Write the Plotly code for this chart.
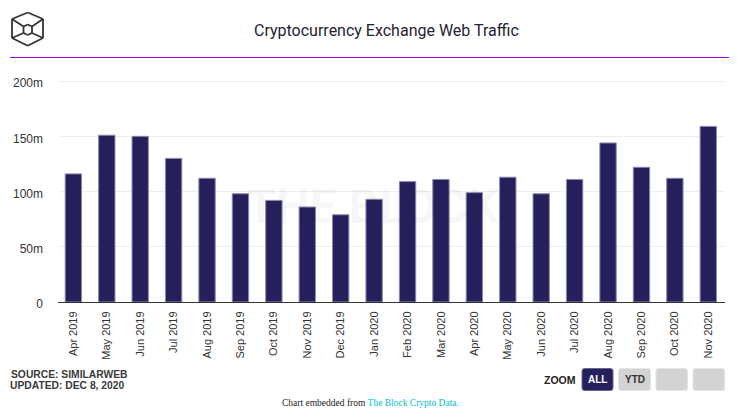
import plotly.graph_objects as go

months = ["Apr 2019","May 2019","Jun 2019","Jul 2019","Aug 2019","Sep 2019","Oct 2019","Nov 2019","Dec 2019","Jan 2020",
          "Feb 2020","Mar 2020","Apr 2020","May 2020","Jun 2020","Jul 2020","Aug 2020","Sep 2020","Oct 2020","Nov 2020"]
traffic = [116e6,151e6,150e6,130e6,112e6,98e6,92e6,86e6,79e6,93e6,109e6,111e6,99e6,113e6,98e6,111e6,144e6,122e6,112e6,159e6]
y_ticks = [0,50e6,100e6,150e6,200e6]
y_labels = ["0","50m","100m","150m","200m"]

W, H = 741, 419
L, R, T, B = 58, 16, 80, 117
DARK = "#25205c"

def px(x): return (x - L) / (W - L - R)
def py(y): return 1 - (y - T) / (H - T - B)

shapes = []
annotations = []

def line(x0, y0, x1, y1, color, width):
    shapes.append(dict(type="line", xref="paper", yref="paper", x0=px(x0), y0=py(y0), x1=px(x1), y1=py(y1),
                       line=dict(color=color, width=width), layer="above"))

def text(x, y, s, size, color, family="Liberation Sans", anchor="center", **kw):
    annotations.append(dict(xref="paper", yref="paper", x=px(x), y=py(y), text=s, showarrow=False,
                            xanchor=anchor, yanchor="middle", font=dict(size=size, color=color, family=family), **kw))

def button(x0, x1, fill, edge, y0=368.5, y1=390.5, r=2.5):
    a, b, c, d = px(x0), px(x1), py(y0), py(y1)
    rx, ry = r / (W - L - R), r / (H - T - B)
    path = (f"M{a+rx},{c} L{b-rx},{c} Q{b},{c} {b},{c-ry} L{b},{d+ry} Q{b},{d} {b-rx},{d} "
            f"L{a+rx},{d} Q{a},{d} {a},{d+ry} L{a},{c-ry} Q{a},{c} {a+rx},{c} Z")
    shapes.append(dict(type="path", xref="paper", yref="paper", path=path,
                       fillcolor=fill, line=dict(color=edge, width=1), layer="above"))

# header rule
line(10, 57.5, 729, 57.5, "#a000e0", 1)

# logo
LOGO = "#333333"
outer = [(27.7,12.5),(43,19),(43,38),(27.7,45.7),(12,38),(12,19),(27.7,12.5)]
for (a,b),(c,d) in zip(outer, outer[1:]):
    line(a,b,c,d,LOGO,1.8)
inner = [(27.7,24.5),(32,26.5),(32,33),(27.7,35),(23.5,33),(23.5,26.5),(27.7,24.5)]
for (a,b),(c,d) in zip(inner, inner[1:]):
    line(a,b,c,d,LOGO,1.8)
for seg in [(12,19,23.5,26.5),(43,19,32,26.5),(12,38,23.5,33),(43,38,32,33)]:
    line(*seg,LOGO,1.8)

# title and footer
text(386.5, 30.5, "Cryptocurrency Exchange Web Traffic", 16, "#1f2430", "Roboto")
text(8.5, 374.5, "<b>SOURCE: SIMILARWEB</b>", 10.3, "#3a3a3a", "Liberation Sans", "left")
text(7.5, 385.5, "<b>UPDATED: DEC 8, 2020</b>", 10.3, "#3a3a3a", "Liberation Sans", "left")
text(370.5, 403, "Chart embedded from <span style='color:#00c4c4'>The Block Crypto Data.</span>", 9.5, "#222222", "Liberation Serif")

# watermark
text(372, 206, "<b>THE BLOCK</b>", 48, "rgba(0,0,0,0.04)", "Roboto")

# zoom buttons
text(559.5, 379.5, "<b>ZOOM</b>", 10.5, "#222222", "Liberation Sans")
button(582, 613, DARK, "#6a668f")
button(618.5, 650.5, "#d3d3d3", "#e4e4e4")
button(656, 687.5, "#d3d3d3", "#e4e4e4")
button(693, 724.5, "#d3d3d3", "#e4e4e4")
text(597.5, 379.5, "<b>ALL</b>", 10, "#ffffff")
text(634.5, 379.5, "<b>YTD</b>", 10, "#333333")

fig = go.Figure(go.Bar(x=months, y=traffic, width=0.49, marker=dict(color=DARK, line=dict(color="#8d8aad", width=1))))
fig.update_layout(
    width=W, height=H, margin=dict(l=L, r=R, t=T, b=B), paper_bgcolor="white", plot_bgcolor="white",
    showlegend=False, shapes=shapes, annotations=annotations,
    font=dict(family="Liberation Sans", color="#333333"),
    xaxis=dict(type="category", categoryorder="array", categoryarray=months, tickangle=-90, ticks="",
               showgrid=False, showline=True, linecolor="#333333", linewidth=1, ticklabelstandoff=4,
               tickfont=dict(size=11, color="#333333"), range=[-0.46, 19.5]),
    yaxis=dict(range=[0, 201e6], tickvals=y_ticks, ticktext=y_labels, showgrid=True, gridcolor="#eeeeee",
               gridwidth=1, zeroline=False, showline=False, ticks="", ticklabelstandoff=14, ticklabelshift=2,
               tickfont=dict(size=12, color="#333333")),
)
fig.write_html("out.html", config=dict(displayModeBar=False), post_script="document.body.style.margin='0';")
